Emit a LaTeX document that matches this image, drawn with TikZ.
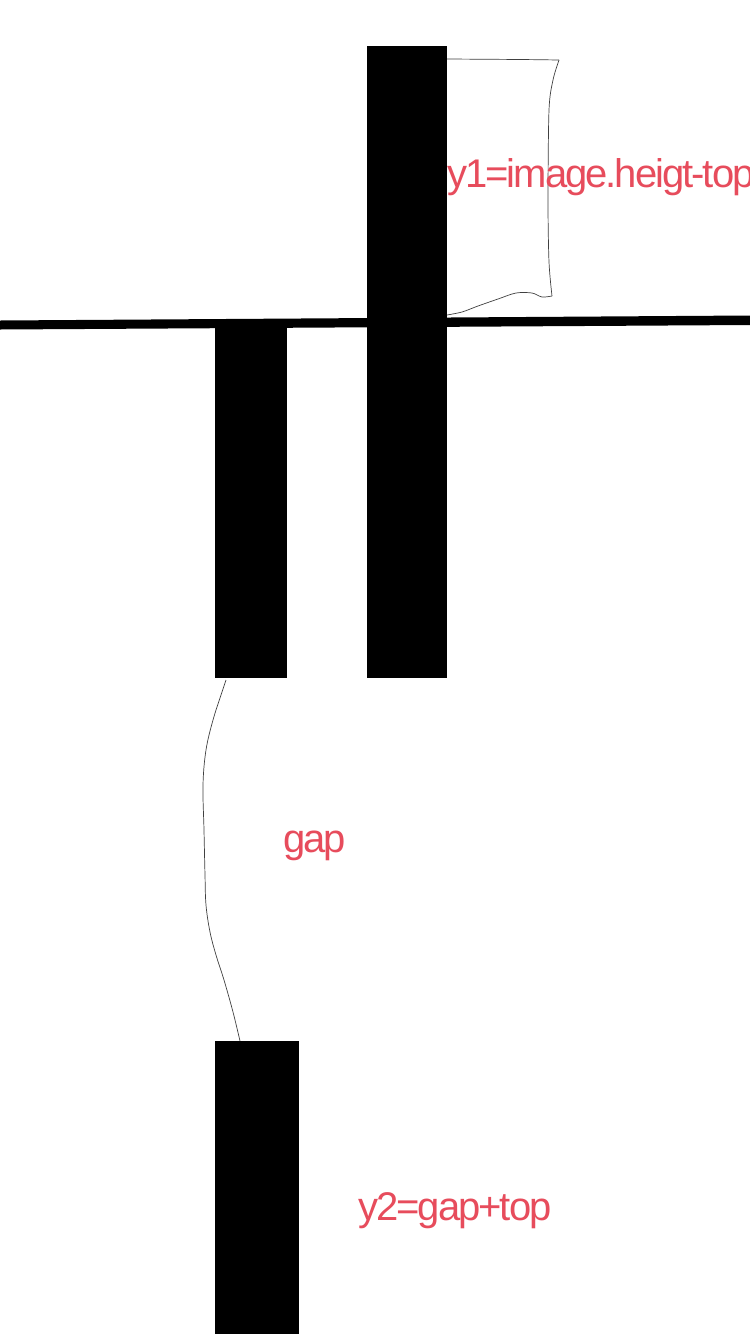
\documentclass[tikz,border=0pt]{standalone}
\usepackage{fontspec}
\setmainfont{Liberation Sans}[LetterSpace=-5]
\definecolor{labelred}{RGB}{231,76,92}

\begin{document}
\begin{tikzpicture}[x=1pt, y=-1pt,
  bar/.style={fill=black},
  pen/.style={draw=black!75, line width=0.7pt, line join=round},
  note/.style={text=labelred, inner sep=0pt, anchor=base west, font=\fontsize{40}{48}\selectfont}]

\useasboundingbox[fill=white] (0,0) rectangle (750,1334);

% --- Baseline of the image ---
\fill[bar] (0,320.5) -- (750,315.5) -- (750,325) -- (0,329.5) -- cycle;

% --- Bars ---
\fill[bar] (367,46) rectangle (447,678);
\fill[bar] (215,326) rectangle (287,678);
\fill[bar] (215,1041) rectangle (299,1334);

% --- Hand drawn brackets ---
\draw[pen] plot[smooth, tension=0.5] coordinates {(447,59) (520,59.5) (559,60)};
\draw[pen] plot[smooth, tension=0.5] coordinates {(559,60) (553,80) (549,110) (548,200) (549,262) (552,296)};
\draw[pen] plot[smooth, tension=0.5] coordinates {(552,296) (542,297) (532,293) (516,293) (498,299) (478,306) (462,312) (447,315)};
\draw[pen] plot[smooth, tension=0.6] coordinates {(226,680) (222,692) (213,720) (206,750) (203,785) (204,830) (205,875) (206,905) (210,932) (216,955) (224,980) (233,1012) (240,1041)};

% --- Labels ---
\node[note] (ylabel1) at (447,187) {y1=image.heigt-top};
\node[note] (gaplabel) at (283,852) {gap};
\node[note] (ylabel2) at (358,1220) {y2=gap+top};

\end{tikzpicture}
\end{document}
